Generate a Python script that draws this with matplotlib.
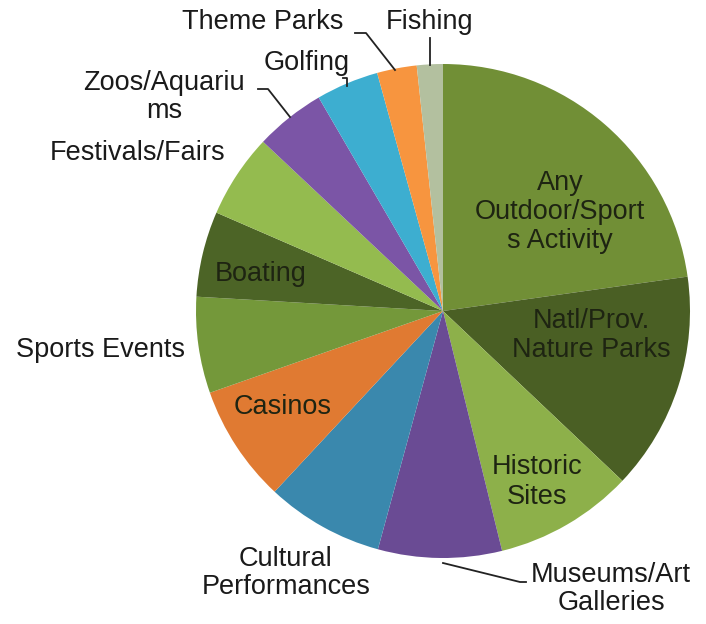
import matplotlib.pyplot as plt

plt.rcParams['font.family'] = ['Liberation Sans', 'DejaVu Sans']

# Activity shares (percent), clockwise from 12 o'clock
activities = ['Any Outdoor/Sports Activity', 'Natl/Prov. Nature Parks', 'Historic Sites',
              'Museums/Art Galleries', 'Cultural Performances', 'Casinos', 'Sports Events',
              'Boating', 'Festivals/Fairs', 'Zoos/Aquariums', 'Golfing', 'Theme Parks', 'Fishing']
shares = [22.8, 14.3, 9.1, 8.1, 7.7, 7.7, 6.3, 5.6, 5.5, 4.6, 4.1, 2.6, 1.7]
colors = ['#718f36', '#4a5f24', '#8db04a', '#6a4b94', '#3a88ad', '#e07a32', '#74983a',
          '#4c6426', '#94bb4f', '#7b55a6', '#3daed0', '#f7953f', '#b3c09f']

W, H = 706, 624
CX, CY, R = 443, 311, 247


def px(x, y):
    # pixel position -> data coordinates (pie centred at 0,0 with radius 1)
    return (x - CX) / R, (CY - y) / R


fig = plt.figure(figsize=(W / 100, H / 100), dpi=100)
ax = fig.add_axes([0, 0, 1, 1])
ax.pie(shares, colors=colors, startangle=90, counterclock=False, radius=1,
       wedgeprops=dict(linewidth=0))
ax.set_xlim((0 - CX) / R, (W - CX) / R)
ax.set_ylim((CY - H) / R, CY / R)
ax.set_aspect('auto')
ax.axis('off')

fs = 19.5
inside = [
    ('Any\nOutdoor/Sport\ns Activity', 560, 212),
    ('Natl/Prov.\nNature Parks', 591, 336),
    ('Historic\nSites', 537, 482),
    ('Casinos', 283, 407),
    ('Boating', 261, 274),
]
for txt, x, y in inside:
    ax.text(*px(x, y), txt, ha='center', va='center', fontsize=fs,
            color='#1e2412', linespacing=1.15)

outside = [
    ('Sports Events', 101, 350),
    ('Cultural\nPerformances', 286, 573),
    ('Museums/Art\nGalleries', 611, 589),
    ('Festivals/Fairs', 138, 153),
    ('Zoos/Aquariu\nms', 164, 97),
    ('Golfing', 307, 63),
    ('Theme Parks', 263, 22),
    ('Fishing', 430, 22),
]
for txt, x, y in outside:
    ax.text(*px(x, y), txt, ha='center', va='center', fontsize=fs,
            color='#1a1a1a', linespacing=1.1)

# leader lines
leaders = [
    [(430, 38), (430, 65)],
    [(355, 33), (366, 33), (395, 70)],
    [(343, 78), (347, 78), (347, 86)],
    [(258, 89), (268, 89), (290, 117)],
    [(443, 563), (520, 582), (526, 582)],
]
for pts in leaders:
    xs, ys = zip(*[px(x, y) for x, y in pts])
    ax.plot(xs, ys, color='#222222', lw=1.3)

fig.savefig('out.png', dpi=100)
